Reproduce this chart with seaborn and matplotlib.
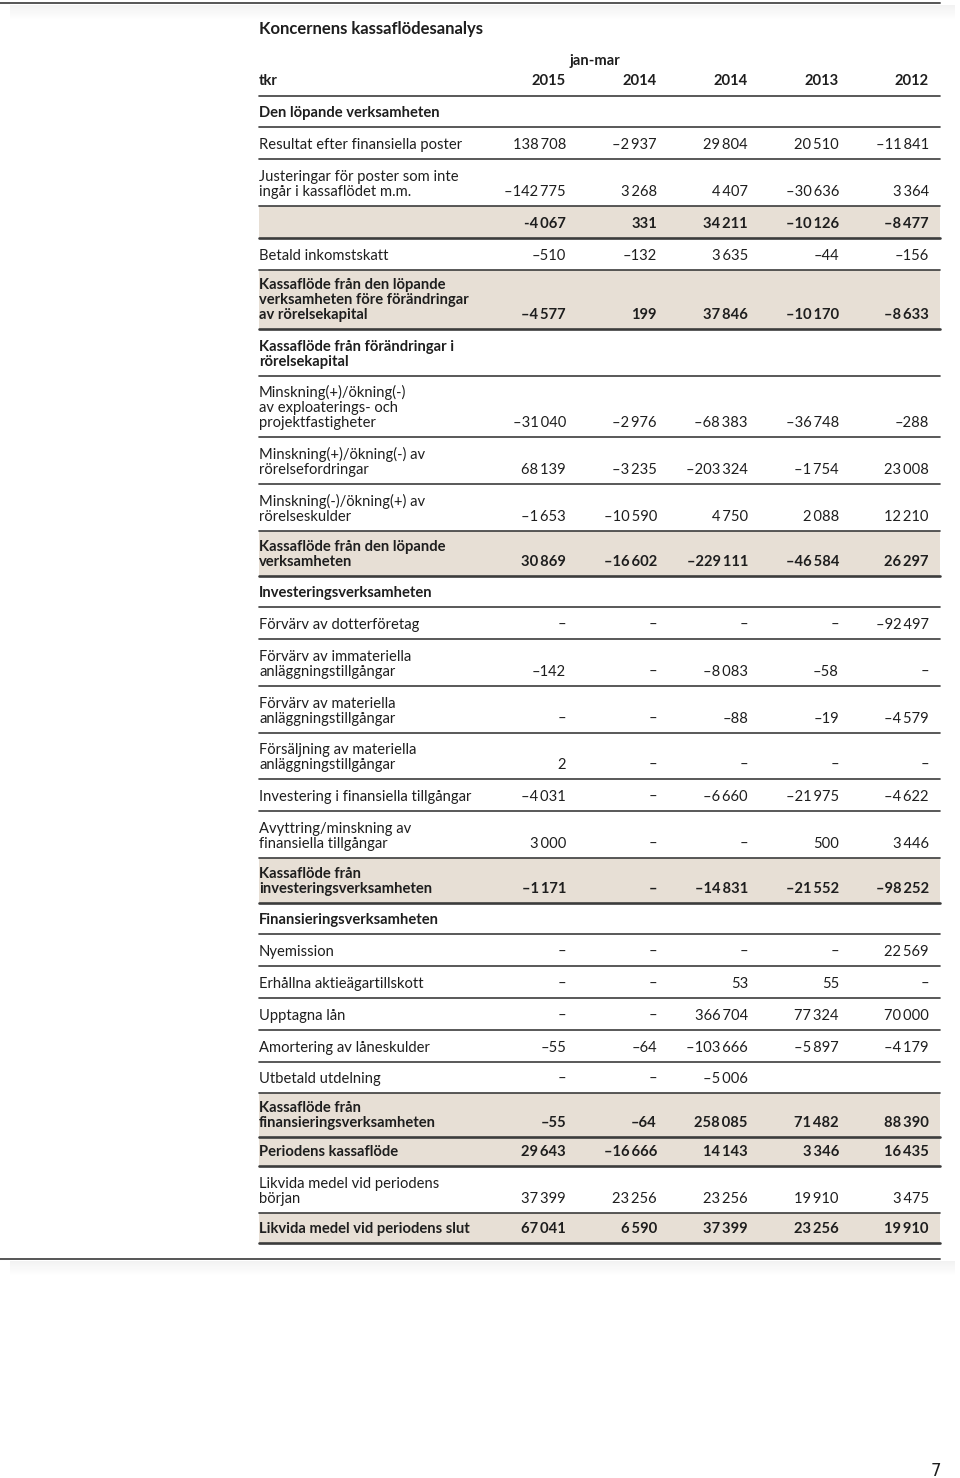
import numpy as np
import matplotlib
matplotlib.use("Agg")
import matplotlib.pyplot as plt
import seaborn as sns

# --- data -----------------------------------------------------------------
years = ["2015", "2014", "2014", "2013", "2012"]
period_note = "jan-mar"

row_labels = [
    "Den löpande verksamheten",
    "Resultat efter finansiella poster",
    "Justeringar för poster som inte\ningår i kassaflödet m.m.",
    "",
    "Betald inkomstskatt",
    "Kassaflöde från den löpande\nverksamheten före förändringar\nav rörelsekapital",
    "Kassaflöde från förändringar i\nrörelsekapital",
    "Minskning(+)/ökning(-)\nav exploaterings- och\nprojektfastigheter",
    "Minskning(+)/ökning(-) av\nrörelsefordringar",
    "Minskning(-)/ökning(+) av\nrörelseskulder",
    "Kassaflöde från den löpande\nverksamheten",
    "Investeringsverksamheten",
    "Förvärv av dotterföretag",
    "Förvärv av immateriella\nanläggningstillgångar",
    "Förvärv av materiella\nanläggningstillgångar",
    "Försäljning av materiella\nanläggningstillgångar",
    "Investering i finansiella tillgångar",
    "Avyttring/minskning av\nfinansiella tillgångar",
    "Kassaflöde från\ninvesteringsverksamheten",
    "Finansieringsverksamheten",
    "Nyemission",
    "Erhållna aktieägartillskott",
    "Upptagna lån",
    "Amortering av låneskulder",
    "Utbetald utdelning",
    "Kassaflöde från\nfinansieringsverksamheten",
    "Periodens kassaflöde",
    "Likvida medel vid periodens\nbörjan",
    "Likvida medel vid periodens slut",
]

col_2015q = ["", "138 708", "–142 775", "-4 067", "–510", "–4 577", "", "–31 040", "68 139",
             "–1 653", "30 869", "", "–", "–142", "–", "2", "–4 031", "3 000", "–1 171", "",
             "–", "–", "–", "–55", "–", "–55", "29 643", "37 399", "67 041"]
col_2014q = ["", "–2 937", "3 268", "331", "–132", "199", "", "–2 976", "–3 235",
             "–10 590", "–16 602", "", "–", "–", "–", "–", "–", "–", "–", "",
             "–", "–", "–", "–64", "–", "–64", "–16 666", "23 256", "6 590"]
col_2014 = ["", "29 804", "4 407", "34 211", "3 635", "37 846", "", "–68 383", "–203 324",
            "4 750", "–229 111", "", "–", "–8 083", "–88", "–", "–6 660", "–", "–14 831", "",
            "–", "53", "366 704", "–103 666", "–5 006", "258 085", "14 143", "23 256", "37 399"]
col_2013 = ["", "20 510", "–30 636", "–10 126", "–44", "–10 170", "", "–36 748", "–1 754",
            "2 088", "–46 584", "", "–", "–58", "–19", "–", "–21 975", "500", "–21 552", "",
            "–", "55", "77 324", "–5 897", "", "71 482", "3 346", "19 910", "23 256"]
col_2012 = ["", "–11 841", "3 364", "–8 477", "–156", "–8 633", "", "–288", "23 008",
            "12 210", "26 297", "", "–92 497", "–", "–4 579", "–", "–4 622", "3 446", "–98 252", "",
            "22 569", "–", "70 000", "–4 179", "", "88 390", "16 435", "3 475", "19 910"]

bold_rows = [0, 3, 5, 6, 10, 11, 18, 19, 25, 26, 28]
shaded_rows = [3, 5, 10, 18, 25, 26, 28]

# --- layout (pixels) --------------------------------------------------------
row_heights = [31, 32, 47, 32, 32, 59, 47, 61, 47, 47, 45, 31, 32, 47, 47, 46, 32, 47, 45,
               31, 32, 32, 32, 32, 31, 44, 29, 47, 30]
col_right = [566, 657, 748, 839, 929]
x_left, x_right = 259, 940
table_top = 96
line_pitch = 15

sns.set_theme(style="white")
plt.rcParams["font.family"] = ["Lato", "DejaVu Sans"]

fig = plt.figure(figsize=(9.6, 14.78), dpi=100)
ax = fig.add_axes([0, 0, 1, 1])
ax.set_xlim(0, 960)
ax.set_ylim(1478, 0)
ax.axis("off")

txt = "#1e1e1e"
line_col = "#3c3c3c"
shade = "#e7dfd5"
fs = 10.6


def shadow(y0, x0, x1):
    for k in range(14):
        ax.fill_between([x0, x1], y0 + k, y0 + k + 1, color="#c8c8c8",
                        alpha=0.22 * (1 - k / 14), lw=0)


# page frame lines
ax.plot([0, 940], [3, 3], color="#555555", lw=1.4)
shadow(5, 10, 955)
ax.plot([0, 940], [1259, 1259], color="#555555", lw=1.4)
shadow(1261, 10, 955)

# title and header
ax.text(x_left, 34, "Koncernens kassaflödesanalys", fontsize=12, fontweight="bold",
        color=txt, va="baseline")
ax.text(595, 65, period_note, fontsize=fs, fontweight="bold", color=txt, ha="center",
        va="baseline")
ax.text(x_left, 85, "tkr", fontsize=fs, fontweight="bold", color=txt, va="baseline")
for xr, yr in zip(col_right, years):
    ax.text(xr, 85, yr, fontsize=fs, fontweight="bold", color=txt, ha="right", va="baseline")
ax.plot([x_left, x_right], [table_top, table_top], color=line_col, lw=1.2)

columns = [col_2015q, col_2014q, col_2014, col_2013, col_2012]
y = table_top
for i, label in enumerate(row_labels):
    h = row_heights[i]
    top, bottom = y, y + h
    if i in shaded_rows:
        ax.fill_between([x_left, x_right], top, bottom, color=shade, lw=0)
    weight = "bold" if i in bold_rows else "normal"
    base = bottom - line_pitch + 5
    lines = label.split("\n")
    n = len(lines)
    for j, ln in enumerate(lines):
        ax.text(x_left, base - line_pitch * (n - 1 - j), ln, fontsize=fs, fontweight=weight,
                color=txt, va="baseline")
    for xr, col in zip(col_right, columns):
        if col[i]:
            ax.text(xr, base, col[i].replace(" ", "\u2009"), fontsize=fs, fontweight=weight,
                    color=txt, ha="right", va="baseline")
    lw = 1.9 if i in shaded_rows else 1.2
    ax.plot([x_left, x_right], [bottom, bottom], color=line_col, lw=lw)
    y = bottom

ax.text(941, 1476, "7", fontsize=12, color=txt, ha="right", va="baseline",
        family=["Liberation Sans Narrow", "DejaVu Sans"])

fig.savefig("out.png", dpi=100)
